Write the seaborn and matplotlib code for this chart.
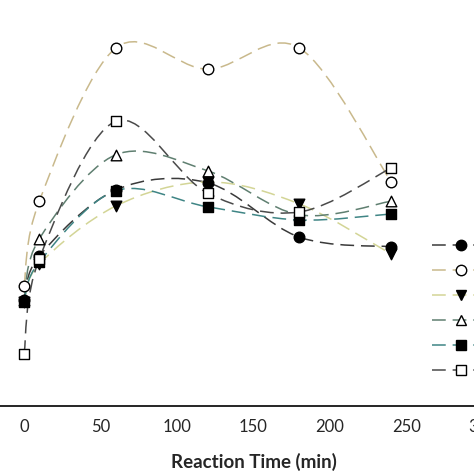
import numpy as np
import pandas as pd
import matplotlib
matplotlib.use("Agg")
import matplotlib.pyplot as plt
from matplotlib.path import Path
from matplotlib.patches import PathPatch
from matplotlib.lines import Line2D
import seaborn as sns

# reaction time (min)
time = [0, 10, 60, 120, 180, 240]

# y values (no y axis visible, arbitrary units)
s1 = [26.5, 37.5, 54.0, 55.8, 42.2, 39.8]   # filled circle
s2 = [30.0, 51.2, 89.5, 84.2, 89.5, 56.0]   # open circle
s3 = [26.0, 35.5, 50.0, 56.0, 50.5, 38.0]   # filled triangle down
s4 = [26.5, 41.8, 62.8, 58.8, 47.8, 51.2]   # open triangle up
s5 = [26.0, 36.0, 53.8, 49.8, 46.5, 48.0]   # filled square
s6 = [13.0, 36.8, 71.2, 53.2, 48.5, 59.5]   # open square

labels = ["S1", "S2", "S3", "S4", "S5", "S6"]
series = [s1, s2, s3, s4, s5, s6]
colors = ["#3a3a3a", "#c9b98c", "#d3d596", "#5f7f70", "#3f8585", "#4a4a4a"]
markers = ["o", "o", "v", "^", "s", "s"]
faces = ["black", "white", "black", "white", "black", "white"]
dash = (0, (9, 4.5))


def smooth_path(xs, ys):
    # Catmull-Rom through the data points, drawn as cubic Bezier segments
    p = np.column_stack([xs, ys]).astype(float)
    pts = np.vstack([p[0], p, p[-1]])
    verts = [p[0]]
    codes = [Path.MOVETO]
    for i in range(1, len(pts) - 2):
        c1 = pts[i] + (pts[i + 1] - pts[i - 1]) / 6.0
        c2 = pts[i + 1] - (pts[i + 2] - pts[i]) / 6.0
        verts += [c1, c2, pts[i + 1]]
        codes += [Path.CURVE4] * 3
    return Path(verts, codes)


def main():
    sns.set_theme(style="white")
    plt.rcParams["font.family"] = ["Lato", "DejaVu Sans"]

    df = pd.DataFrame({
        "time": time * len(series),
        "value": np.concatenate(series),
        "series": np.repeat(labels, len(time)),
    })

    fig = plt.figure(figsize=(4.74, 4.74), dpi=100)
    ax = fig.add_axes([-0.0139, 0.1435, 1.0975, 0.8439])

    for lab, c in zip(labels, colors):
        d = df[df.series == lab]
        patch = PathPatch(smooth_path(d.time, d.value), facecolor="none",
                          edgecolor=c, lw=1.1, linestyle=dash, zorder=2)
        ax.add_patch(patch)

    for lab, m, f in zip(labels, markers, faces):
        d = df[df.series == lab]
        sns.scatterplot(data=d, x="time", y="value", marker=m, color=f,
                        edgecolor="black", linewidth=1.0, s=58, ax=ax,
                        zorder=3, legend=False)

    ax.set_xlim(-20, 320)
    ax.set_ylim(0, 100)
    ax.set_xticks([0, 50, 100, 150, 200, 250, 300])
    ax.set_yticks([])
    ax.set_ylabel("")
    ax.set_xlabel("Reaction Time (min)", fontsize=13.5, fontweight="bold",
                  labelpad=13)
    ax.tick_params(axis="x", direction="out", length=4, width=1,
                   labelsize=12, pad=5.5, color="black")
    for side in ["left", "top", "right"]:
        ax.spines[side].set_visible(False)
    ax.spines["bottom"].set_color("black")
    ax.spines["bottom"].set_linewidth(1.2)

    # legend labels lie beyond the right edge in the reference, so none shown
    handles = [Line2D([0], [0], color=c, lw=1.1, linestyle=dash,
                      marker=m, markerfacecolor=f, markeredgecolor="black",
                      markersize=7.5)
               for c, m, f in zip(colors, markers, faces)]
    fig.legend(handles, [""] * len(handles), loc="upper left",
               bbox_to_anchor=(432 / 474, 0.495), frameon=False,
               borderpad=0, borderaxespad=0, handlelength=4.2,
               labelspacing=0.95, fontsize=10, numpoints=1)

    fig.savefig("out.png", dpi=100)
    plt.close(fig)


if __name__ == "__main__":
    main()
